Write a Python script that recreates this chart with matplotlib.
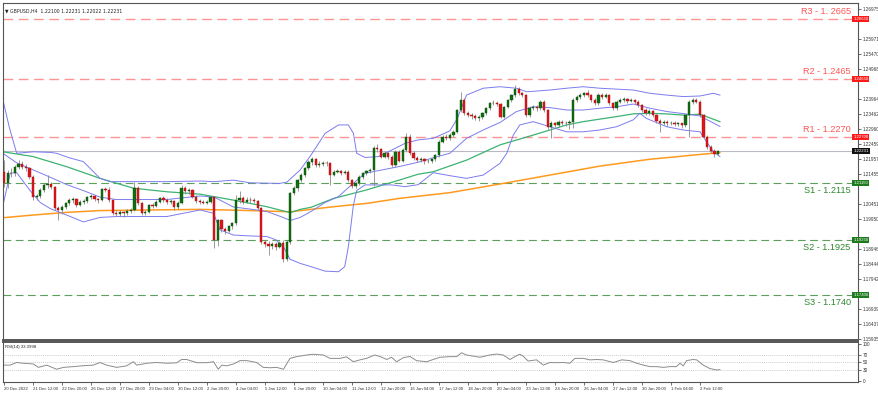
import numpy as np
import matplotlib
matplotlib.use('Agg')
import matplotlib.pyplot as plt
import matplotlib.transforms as mtransforms

plt.rcParams['font.family'] = ['Liberation Sans', 'DejaVu Sans']

title = '\u25bc GBPUSD,H4  1.22100 1.22231 1.22022 1.22231'
rsi_title = 'RSI(14) 33.3998'

# H4 candles, oldest first (open = previous close)
first_open = 1.2153
closes = [1.2114, 1.2150, 1.2148, 1.2170, 1.2180, 1.2170, 1.2165, 1.2137, 1.2068, 1.2072,
          1.2092, 1.2109, 1.2112, 1.2103, 1.2030, 1.2025, 1.2034, 1.2047, 1.2058, 1.2061,
          1.2042, 1.2053, 1.2056, 1.2067, 1.2072, 1.2061, 1.2058, 1.2094, 1.2092, 1.2058,
          1.2016, 1.2011, 1.2018, 1.2014, 1.2022, 1.2025, 1.2098, 1.2047, 1.2014, 1.2019,
          1.2042, 1.2039, 1.2053, 1.2064, 1.2058, 1.2053, 1.2056, 1.2034, 1.2050, 1.2098,
          1.2087, 1.2092, 1.2070, 1.2056, 1.2052, 1.2050, 1.2053, 1.2067, 1.1924, 1.1990,
          1.1960, 1.1955, 1.1970, 1.1980, 1.2058, 1.2064, 1.2053, 1.2060, 1.2058, 1.2055,
          1.2030, 1.1919, 1.1912, 1.1905, 1.1912, 1.1902, 1.1915, 1.1860, 1.1919, 1.2081,
          1.2098, 1.2125, 1.2142, 1.2165, 1.2187, 1.2195, 1.2176, 1.2180, 1.2183, 1.2181,
          1.2142, 1.2153, 1.2155, 1.2150, 1.2153, 1.2125, 1.2106, 1.2115, 1.2137, 1.2148,
          1.2155, 1.2160, 1.2232, 1.2228, 1.2204, 1.2215, 1.2204, 1.2176, 1.2220, 1.2190,
          1.2226, 1.2271, 1.2215, 1.2198, 1.2192, 1.2195, 1.2188, 1.2190, 1.2195, 1.2209,
          1.2254, 1.2271, 1.2265, 1.2276, 1.2287, 1.2360, 1.2394, 1.2349, 1.2343, 1.2340,
          1.2332, 1.2336, 1.2349, 1.2366, 1.2382, 1.2385, 1.2380, 1.2338, 1.2371, 1.2394,
          1.2410, 1.2430, 1.2416, 1.2410, 1.2343, 1.2366, 1.2371, 1.2366, 1.2388, 1.2360,
          1.2304, 1.2315, 1.2310, 1.2321, 1.2318, 1.2315, 1.2321, 1.2394, 1.2405, 1.2411,
          1.2416, 1.2410, 1.2394, 1.2382, 1.2411, 1.2405, 1.2411, 1.2382, 1.2366, 1.2388,
          1.2394, 1.2396, 1.2391, 1.2394, 1.2388, 1.2377, 1.2360, 1.2349, 1.2357, 1.2343,
          1.2324, 1.2317, 1.2321, 1.2315, 1.2318, 1.2313, 1.2315, 1.2310, 1.2343, 1.2388,
          1.2394, 1.2388, 1.2343, 1.2271, 1.2237, 1.2223, 1.2212, 1.2223]
highs = [1.2192, 1.2158, 1.2165, 1.2176, 1.2192, 1.2188, 1.2178, 1.2170, 1.2142, 1.2080,
         1.2098, 1.2115, 1.2142, 1.2120, 1.2106, 1.2038, 1.2040, 1.2052, 1.2064, 1.2068,
         1.2064, 1.2058, 1.2062, 1.2072, 1.2078, 1.2076, 1.2066, 1.2100, 1.2103, 1.2103,
         1.2062, 1.2024, 1.2025, 1.2022, 1.2028, 1.2032, 1.2120, 1.2104, 1.2052, 1.2026,
         1.2046, 1.2050, 1.2058, 1.2070, 1.2072, 1.2064, 1.2062, 1.2060, 1.2055, 1.2109,
         1.2106, 1.2100, 1.2096, 1.2074, 1.2062, 1.2058, 1.2060, 1.2072, 1.2072, 1.1996,
         1.1995, 1.1968, 1.1975, 1.1986, 1.2075, 1.2087, 1.2072, 1.2070, 1.2068, 1.2066,
         1.2060, 1.2035, 1.1925, 1.1920, 1.1918, 1.1916, 1.1922, 1.1925, 1.1925, 1.2085,
         1.2104, 1.2130, 1.2148, 1.2170, 1.2192, 1.2202, 1.2200, 1.2188, 1.2190, 1.2188,
         1.2186, 1.2160, 1.2162, 1.2160, 1.2160, 1.2158, 1.2130, 1.2120, 1.2142, 1.2153,
         1.2160, 1.2166, 1.2238, 1.2245, 1.2234, 1.2222, 1.2220, 1.2210, 1.2226, 1.2226,
         1.2232, 1.2284, 1.2278, 1.2222, 1.2206, 1.2202, 1.2200, 1.2196, 1.2200, 1.2214,
         1.2258, 1.2276, 1.2278, 1.2282, 1.2292, 1.2365, 1.2420, 1.2400, 1.2356, 1.2350,
         1.2346, 1.2342, 1.2354, 1.2370, 1.2388, 1.2392, 1.2390, 1.2384, 1.2374, 1.2398,
         1.2415, 1.2444, 1.2436, 1.2422, 1.2414, 1.2372, 1.2378, 1.2376, 1.2394, 1.2392,
         1.2364, 1.2322, 1.2320, 1.2326, 1.2326, 1.2324, 1.2326, 1.2400, 1.2410, 1.2416,
         1.2422, 1.2427, 1.2414, 1.2400, 1.2416, 1.2418, 1.2416, 1.2414, 1.2386, 1.2394,
         1.2400, 1.2404, 1.2400, 1.2400, 1.2398, 1.2392, 1.2380, 1.2366, 1.2362, 1.2360,
         1.2346, 1.2330, 1.2328, 1.2326, 1.2324, 1.2322, 1.2320, 1.2318, 1.2348, 1.2392,
         1.2399, 1.2399, 1.2392, 1.2348, 1.2276, 1.2243, 1.2228, 1.2226]
lows = [1.2103, 1.2098, 1.2135, 1.2140, 1.2162, 1.2162, 1.2155, 1.2130, 1.2058, 1.2060,
        1.2066, 1.2085, 1.2100, 1.2096, 1.2025, 1.1991, 1.2012, 1.2028, 1.2040, 1.2050,
        1.2036, 1.2038, 1.2045, 1.2050, 1.2062, 1.2055, 1.2050, 1.2054, 1.2086, 1.2052,
        1.2008, 1.2004, 1.2006, 1.2003, 1.2008, 1.2015, 1.2020, 1.2042, 1.2008, 1.2008,
        1.2014, 1.2032, 1.2034, 1.2048, 1.2052, 1.2046, 1.2044, 1.2026, 1.2028, 1.2044,
        1.2080, 1.2080, 1.2064, 1.2050, 1.2046, 1.2044, 1.2045, 1.2048, 1.1897, 1.1905,
        1.1950, 1.1945, 1.1950, 1.1962, 1.1975, 1.2050, 1.2045, 1.2048, 1.2050, 1.2048,
        1.2025, 1.1912, 1.1900, 1.1874, 1.1895, 1.1892, 1.1896, 1.1852, 1.1855, 1.1910,
        1.2075, 1.2090, 1.2118, 1.2136, 1.2158, 1.2176, 1.2170, 1.2170, 1.2174, 1.2172,
        1.2109, 1.2138, 1.2148, 1.2142, 1.2145, 1.2118, 1.2100, 1.2100, 1.2110, 1.2130,
        1.2142, 1.2150, 1.2105, 1.2220, 1.2198, 1.2198, 1.2196, 1.2170, 1.2170, 1.2185,
        1.2185, 1.2220, 1.2210, 1.2192, 1.2186, 1.2185, 1.2180, 1.2182, 1.2184, 1.2190,
        1.2204, 1.2248, 1.2258, 1.2260, 1.2270, 1.2282, 1.2354, 1.2343, 1.2336, 1.2330,
        1.2326, 1.2324, 1.2330, 1.2344, 1.2360, 1.2376, 1.2374, 1.2332, 1.2332, 1.2366,
        1.2388, 1.2404, 1.2410, 1.2404, 1.2336, 1.2338, 1.2360, 1.2358, 1.2360, 1.2354,
        1.2298, 1.2265, 1.2302, 1.2304, 1.2310, 1.2308, 1.2298, 1.2300, 1.2388, 1.2398,
        1.2405, 1.2404, 1.2388, 1.2376, 1.2376, 1.2398, 1.2400, 1.2376, 1.2360, 1.2360,
        1.2382, 1.2388, 1.2384, 1.2386, 1.2380, 1.2370, 1.2354, 1.2342, 1.2344, 1.2336,
        1.2318, 1.2287, 1.2310, 1.2308, 1.2310, 1.2306, 1.2306, 1.2300, 1.2304, 1.2271,
        1.2380, 1.2382, 1.2338, 1.2265, 1.2230, 1.2216, 1.2204, 1.2210]

# indicator lines: (bar index, value)
ma_slow_bars = [-0.3, 8, 17.4, 26.5, 40, 54, 68, 79, 91, 100, 109.2, 123, 136.8, 150.6, 164.4, 178.2, 192, 197.5]
ma_slow = [1.1999, 1.2008, 1.2017, 1.2023, 1.2025, 1.2027, 1.2023, 1.2019, 1.2036, 1.2047,
           1.2064, 1.2083, 1.2112, 1.2142, 1.2172, 1.2195, 1.2211, 1.2217]
ma_fast_bars = [-0.3, 8, 17.3, 26.5, 35.7, 44.9, 54.1, 63.3, 72.5, 77, 79, 81.7, 84.7, 91, 100,
                109, 114.3, 118.4, 127.6, 136.8, 146, 150.6, 155.2, 159.8, 169, 173.6, 178.2,
                182.8, 187.4, 192, 197.5]
ma_fast = [1.2220, 1.2204, 1.2170, 1.2131, 1.2098, 1.2086, 1.2078, 1.2058, 1.2036, 1.2022,
           1.2016, 1.2027, 1.2034, 1.2064, 1.2092, 1.2125, 1.2145, 1.2153, 1.2192, 1.2243,
           1.2276, 1.2293, 1.2310, 1.2321, 1.2338, 1.2347, 1.2349, 1.2347, 1.2343, 1.2346, 1.2321]
bb_up_bars = [-0.3, 1.5, 3.5, 8.1, 12.7, 14.5, 18, 21.9, 26.5, 29.2, 35.7, 44.9, 54.1, 58, 63.3,
              67.9, 76, 78, 81.7, 84.7, 88.6, 92.3, 95, 96.4, 97.3, 99.6, 103.3, 107, 110.6,
              114.3, 118.4, 123, 125, 127.6, 132.2, 136.8, 141.4, 144.2, 150.6, 155.2, 159.8,
              164.4, 173.6, 178.2, 182.8, 187.4, 192, 195.7, 197.5]
bb_up = [1.2394, 1.2300, 1.2215, 1.2220, 1.2218, 1.2215, 1.2200, 1.2187, 1.2131, 1.2120,
         1.2120, 1.2120, 1.2122, 1.2120, 1.2125, 1.2116, 1.2114, 1.2118, 1.2159, 1.2209,
         1.2282, 1.2310, 1.2310, 1.2282, 1.2215, 1.2201, 1.2204, 1.2226, 1.2248, 1.2260,
         1.2265, 1.2290, 1.2330, 1.2410, 1.2433, 1.2438, 1.2433, 1.2421, 1.2427, 1.2433,
         1.2438, 1.2433, 1.2427, 1.2416, 1.2410, 1.2405, 1.2407, 1.2416, 1.2410]
bb_mid_bars = [-0.3, 3.5, 8.1, 12.7, 17.3, 21.9, 26.5, 31, 35.7, 44.9, 54.1, 58, 63.3, 67.9,
               72.5, 77, 79, 81.7, 84.7, 88.6, 92.3, 95, 99.6, 104.2, 108.8, 114.3, 118.4, 123,
               127.6, 132.2, 136.8, 141.4, 146, 150.6, 155.2, 159.8, 164.4, 169, 173.6, 178.2,
               182.8, 187.4, 192, 197.5]
bb_mid = [1.2215, 1.2183, 1.2159, 1.2135, 1.2110, 1.2090, 1.2068, 1.2060, 1.2060, 1.2060,
          1.2072, 1.2068, 1.2035, 1.2028, 1.2020, 1.2000, 1.1990, 1.2000, 1.2020, 1.2050,
          1.2070, 1.2100, 1.2148, 1.2159, 1.2170, 1.2185, 1.2200, 1.2215, 1.2265, 1.2293,
          1.2318, 1.2355, 1.2371, 1.2368, 1.2360, 1.2360, 1.2366, 1.2371, 1.2380, 1.2366,
          1.2355, 1.2348, 1.2340, 1.2305]
bb_low_bars = [-0.3, 1.7, 3.5, 7.2, 10, 12.7, 17.3, 21.9, 26.5, 31, 35.7, 40.3, 44.9, 49.5,
               54.1, 57.8, 59.6, 63.3, 67.9, 72.5, 75, 77.1, 78.9, 81.7, 84.7, 88.6, 92.3, 94,
               95, 96.4, 97.3, 99.6, 103.3, 107, 110.6, 114.3, 118.4, 123, 127.6, 132.2, 136.8,
               138.7, 140.5, 142.3, 146, 150.6, 155.2, 159.8, 164.4, 169, 173.6, 175.4, 177.2,
               182.8, 187.4, 192, 193.8, 195.7, 197.5]
bb_low = [1.2040, 1.2148, 1.2150, 1.2090, 1.2050, 1.2030, 1.2008, 1.1985, 1.2000, 1.2003,
          1.2003, 1.2003, 1.2003, 1.2014, 1.2025, 1.2014, 1.1958, 1.1941, 1.1938, 1.1936,
          1.1925, 1.1902, 1.1860, 1.1846, 1.1835, 1.1820, 1.1818, 1.1835, 1.1902, 1.2042,
          1.2090, 1.2109, 1.2109, 1.2109, 1.2103, 1.2110, 1.2150, 1.2140, 1.2131, 1.2142,
          1.2181, 1.2215, 1.2276, 1.2310, 1.2321, 1.2304, 1.2287, 1.2287, 1.2293, 1.2304,
          1.2327, 1.2349, 1.2332, 1.2304, 1.2293, 1.2287, 1.2254, 1.2220, 1.2204]

rsi_bars = [-0.2, 1.7, 3.5, 5.3, 8.1, 9.5, 11.8, 14.5, 16.4, 19.1, 21.9, 24.6, 26.5, 28.3, 31.1,
            33.8, 35.7, 36.6, 39.4, 42.1, 44.9, 47.6, 49, 50.4, 53.2, 55.9, 57.8, 59.1, 60.1,
            61.4, 63.3, 65.1, 67, 69.7, 71.5, 73.4, 75.2, 77.1, 78.9, 80.7, 83.5, 85.3, 88.1,
            89.9, 92.7, 94.5, 96.4, 98.2, 100, 102.3, 103.7, 105.6, 106.9, 108.3, 110.2, 112,
            113.8, 116.6, 118.4, 120.3, 123, 124.9, 126.2, 127.6, 129.5, 131.3, 134, 135.9,
            137.7, 139.6, 140.9, 142.3, 143.2, 144.6, 146.9, 148.8, 150.6, 152.4, 154.3, 156.1,
            157.5, 159.8, 161.6, 163.5, 165.3, 168.1, 170.4, 172.7, 174.5, 176.4, 178.2, 180,
            181.9, 183.7, 185.5, 186.5, 187.4, 188.3, 190.1, 191.1, 192.9, 194.7, 196.6, 197.5]
rsi = [43, 43, 50, 48, 46, 37, 43, 32, 37, 39, 41.5, 43, 50, 43, 37, 41, 52, 43, 48, 50, 48,
       49, 58, 58, 49.5, 49.5, 52, 32, 43, 41, 46, 55, 55, 50, 37, 36, 37, 32, 61, 65.6, 70,
       72, 70, 61, 61, 65, 52, 57, 61, 70, 66, 58, 64, 52, 63, 66, 55, 52, 58, 64, 65.6, 65.6,
       76, 70, 67, 64, 70, 72.7, 70, 58, 65.6, 72, 67, 54, 57, 43, 50, 49.5, 50, 48, 61, 61,
       57, 58, 57, 50, 57, 55, 48, 43, 39, 39, 37, 39, 39, 48, 41, 55, 58, 57, 43, 34, 30, 31]

# support / resistance levels
res_levels = [1.2665, 1.2465, 1.2270]
res_names = ['R3 - 1. 2665', 'R2 - 1.2465', 'R1 - 1.2270']
sup_levels = [1.2115, 1.1925, 1.1740]
sup_names = ['S1 - 1.2115', 'S2 - 1.1925', 'S3 - 1.1740']
last_price = 1.22231

ytick_vals = np.linspace(1.15935, 1.26975, 23)
date_bars = list(range(0, 193, 8))
date_labels = ['20 Dec 2022', '21 Dec 12:00', '22 Dec 20:00', '26 Dec 12:00', '27 Dec 20:00',
               '29 Dec 04:00', '30 Dec 12:00', '2 Jan 20:00', '4 Jan 04:00', '5 Jan 12:00',
               '6 Jan 20:00', '10 Jan 04:00', '11 Jan 12:00', '12 Jan 20:00', '16 Jan 04:00',
               '17 Jan 12:00', '18 Jan 20:00', '20 Jan 04:00', '23 Jan 12:00', '24 Jan 20:00',
               '26 Jan 04:00', '27 Jan 12:00', '30 Jan 20:00', '1 Feb 04:00', '2 Feb 12:00']

RED = '#ff5555'
GREEN = '#2f872f'
AXC = '#555555'


def style_axis(ax):
    for s in ax.spines.values():
        s.set_color(AXC)
        s.set_linewidth(0.8)
    ax.yaxis.tick_right()
    ax.tick_params(axis='y', labelsize=3.3, length=2, width=0.5, pad=1.5, colors='#333333')
    ax.tick_params(axis='x', length=0)


def draw_candles(ax):
    c = np.array(closes)
    o = np.array([first_open] + closes[:-1])
    h = np.array(highs)
    l = np.array(lows)
    x = np.arange(len(c))
    up = c >= o
    ax.vlines(x, l, h, color='#8a8a8a', lw=0.6, zorder=3)
    body = np.maximum(np.abs(c - o), 0.00012)
    bottom = np.minimum(o, c)
    ax.bar(x[up], body[up], bottom=bottom[up], width=0.62, color='#0f6e0f',
           edgecolor='#0a4d0a', lw=0.3, zorder=4)
    ax.bar(x[~up], body[~up], bottom=bottom[~up], width=0.62, color='#e0141b',
           edgecolor='#a01010', lw=0.3, zorder=4)


def level_box(ax, y, txt, color):
    tr = mtransforms.blended_transform_factory(ax.transAxes, ax.transData)
    ax.text(0.9945, y, txt, transform=tr, fontsize=3.1, color='white', va='center', ha='left',
            zorder=10, clip_on=False,
            bbox=dict(boxstyle='square,pad=0.25', fc=color, ec='none'))


fig = plt.figure(figsize=(8.79, 3.95), dpi=100)
ax = fig.add_axes([0.0034, 0.1392, 0.9727, 0.8532])
ax_rsi = fig.add_axes([0.0034, 0.0337, 0.9727, 0.1005])

# main price panel
ax.set_xlim(-0.28, 235.6)
ax.set_ylim(1.15892, 1.27186)
style_axis(ax)
box_levels = res_levels + sup_levels + [last_price]
shown = [v for v in ytick_vals if min(abs(v - b) for b in box_levels) > 0.0022]
ax.set_yticks(shown)
ax.set_yticklabels(['%.5f' % v for v in shown])
ax.set_xticks([])

ax.axhline(last_price, color='#b8b8c8', lw=0.8, zorder=1)
for lv in res_levels:
    ax.axhline(lv, color='#ff7070', lw=1.0, ls=(0, (7, 4)), alpha=0.75, zorder=1)
for lv in sup_levels:
    ax.axhline(lv, color='#3f8f3f', lw=0.8, ls=(0, (7, 4)), alpha=0.85, zorder=1)

ax.plot(ma_slow_bars, ma_slow, color='#ff9a1f', lw=1.1, zorder=2)
ax.plot(ma_fast_bars, ma_fast, color='#3cb371', lw=0.9, zorder=2)
for bx, by in [(bb_up_bars, bb_up), (bb_mid_bars, bb_mid), (bb_low_bars, bb_low)]:
    ax.plot(bx, by, color='#7c7cf0', lw=0.7, zorder=2)

draw_candles(ax)

tr = mtransforms.blended_transform_factory(ax.transAxes, ax.transData)
for lv, name in zip(res_levels, res_names):
    ax.text(0.9915, lv + 0.0010, name, transform=tr, color=RED, fontsize=6.6,
            ha='right', va='bottom', zorder=6)
for lv, name in zip(sup_levels, sup_names):
    ax.text(0.9915, lv - 0.0010, name, transform=tr, color=GREEN, fontsize=6.6,
            ha='right', va='top', zorder=6)

for lv in res_levels:
    level_box(ax, lv, '%.5f' % lv, '#ff1a1a')
for lv in sup_levels:
    level_box(ax, lv, '%.5f' % lv, '#1d7a1d')
level_box(ax, last_price, '%.5f' % last_price, '#111111')

ax.text(0.0025, 0.985, title, transform=ax.transAxes, fontsize=3.3, color='#222222',
        ha='left', va='top', family=['DejaVu Sans'])

# RSI panel
ax_rsi.set_xlim(-0.28, 235.6)
ax_rsi.set_ylim(-1.2, 104.7)
style_axis(ax_rsi)
ax_rsi.set_yticks([0, 30, 50, 70, 100])
ax_rsi.set_yticklabels(['0', '30', '50', '70', '100'])
for lv in [30, 50, 70]:
    ax_rsi.axhline(lv, color='#bdbdbd', lw=0.5, ls=(0, (1.5, 1.5)))
ax_rsi.plot(rsi_bars, rsi, color='#8c8c8c', lw=0.7)
ax_rsi.text(0.0025, 0.93, rsi_title, transform=ax_rsi.transAxes, fontsize=3.1,
            color='#222222', ha='left', va='top')
ax_rsi.set_xticks(date_bars)
ax_rsi.set_xticklabels(date_labels, ha='left')
ax_rsi.tick_params(axis='x', labelsize=3.1, length=2, width=0.5, pad=1.5, colors='#333333')
ax.spines['bottom'].set_linewidth(1.4)
ax_rsi.spines['top'].set_linewidth(1.4)

fig.savefig('out.png', dpi=100)
